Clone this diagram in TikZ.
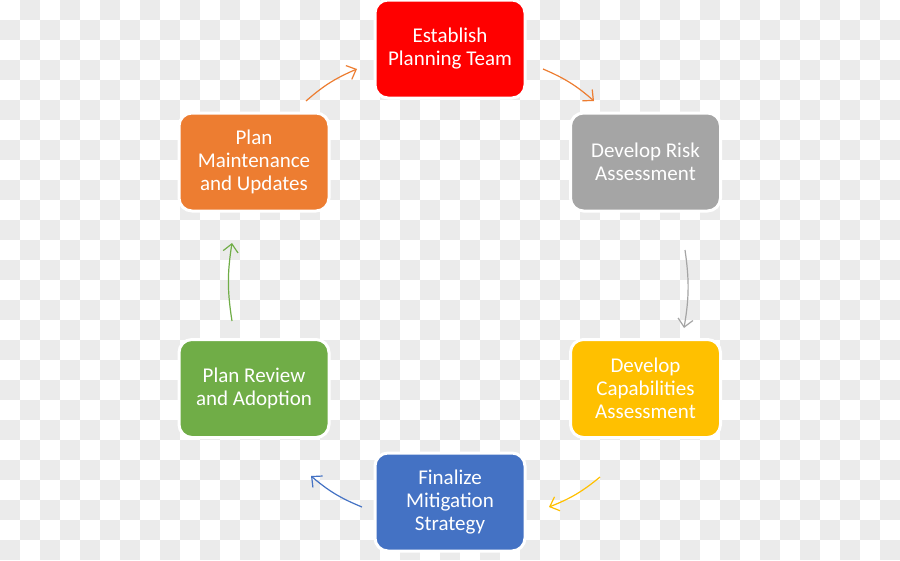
\documentclass[tikz,border=0pt]{standalone}
\usepackage{fontspec}
\setmainfont{Carlito}
\usetikzlibrary{arrows.meta}
\definecolor{cRed}{HTML}{FF0000}
\definecolor{cGray}{HTML}{A5A5A5}
\definecolor{cGold}{HTML}{FFC000}
\definecolor{cBlue}{HTML}{4472C4}
\definecolor{cGreen}{HTML}{70AD47}
\definecolor{cOrange}{HTML}{ED7D31}
\definecolor{cChk}{HTML}{EBEBEB}
\tikzset{
  stepbox/.style={rectangle, rounded corners=13pt, minimum width=150pt, minimum height=98pt,
    inner sep=0pt, draw=white, line width=3pt, align=center, text=white,
    font=\fontsize{21}{23}\selectfont},
  cyc/.style={line width=1.2pt, -{Straight Barb[length=8pt,width=15pt,line width=1.2pt]}, bend left=9}
}
\begin{document}
\begin{tikzpicture}[x=1pt,y=-1pt]
\useasboundingbox (0,0) rectangle (900,560);
\fill[white] (0,0) rectangle (900,560);
\foreach \y in {0,40,...,520} {
  \foreach \x in {20,60,...,860} { \fill[cChk] (\x,\y) rectangle ++(20,20); }
}
\foreach \y in {20,60,...,540} {
  \foreach \x in {0,40,...,880} { \fill[cChk] (\x,\y) rectangle ++(20,20); }
}
\node[stepbox, fill=cRed] (est) at (450,49) {Establish\\Planning Team};
\node[stepbox, fill=cGray] (risk) at (645.5,162) {Develop Risk\\Assessment};
\node[stepbox, fill=cGold] (cap) at (645.5,388.5) {Develop\\Capabilities\\Assessment};
\node[stepbox, fill=cBlue] (fin) at (450,502) {Finalize\\Mitigation\\Strategy};
\node[stepbox, fill=cGreen] (rev) at (254,388.5) {Plan Review\\and Adoption};
\node[stepbox, fill=cOrange] (maint) at (254,162) {Plan\\Maintenance\\and Updates};

\coordinate (a1s) at (543,69);  \coordinate (a1e) at (594,101);
\coordinate (a2s) at (685,250); \coordinate (a2e) at (684,328);
\coordinate (a3s) at (600,477); \coordinate (a3e) at (549,507);
\coordinate (a4s) at (362,507); \coordinate (a4e) at (311,476);
\coordinate (a5s) at (232,321); \coordinate (a5e) at (232,243);
\coordinate (a6s) at (306,101); \coordinate (a6e) at (357,69);

\draw[cyc, cOrange] (a1s) to (a1e);
\draw[cyc, cGray] (a2s) to (a2e);
\draw[cyc, cGold] (a3s) to (a3e);
\draw[cyc, cBlue] (a4s) to (a4e);
\draw[cyc, cGreen] (a5s) to (a5e);
\draw[cyc, cOrange] (a6s) to (a6e);
\end{tikzpicture}
\end{document}
